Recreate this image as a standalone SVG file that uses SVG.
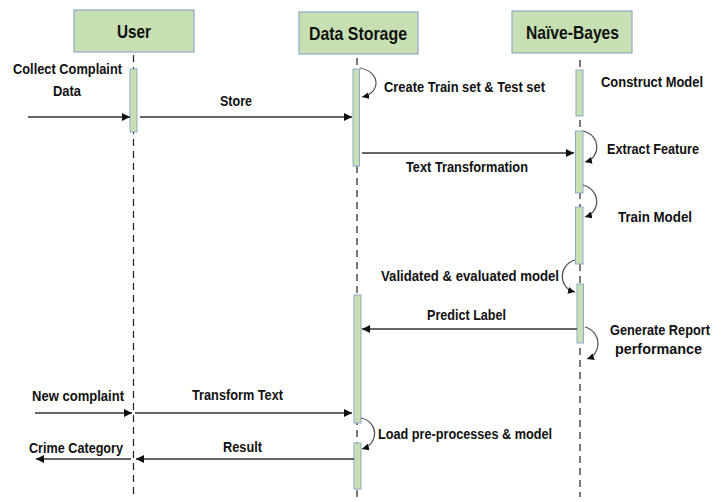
<svg xmlns="http://www.w3.org/2000/svg" width="726" height="502" viewBox="0 0 726 502">
<defs>
<marker id="ah" viewBox="0 0 10 10" refX="10" refY="5" markerWidth="9" markerHeight="8" markerUnits="userSpaceOnUse" orient="auto"><path d="M0,0 L10,5 L0,10 z" fill="#111"/></marker>
<marker id="ahs" viewBox="0 0 10 10" refX="10" refY="5" markerWidth="7" markerHeight="7" markerUnits="userSpaceOnUse" orient="auto"><path d="M0,0 L10,5 L0,10 z" fill="#111"/></marker>
</defs>
<style>
.box{fill:#c6e0b4;stroke:#8fa9c9;stroke-width:1.2}
.bar{fill:#c6e0b4;stroke:#8fa9c9;stroke-width:1}
.life{stroke:#222;stroke-width:1.2;stroke-dasharray:7,5;fill:none}
.msg{stroke:#333;stroke-width:1.3;fill:none;marker-end:url(#ah)}
.loop{stroke:#555;stroke-width:1.2;fill:none;marker-end:url(#ahs)}
.t{font-family:"Liberation Sans Narrow","Liberation Sans",Arial,sans-serif;font-weight:bold;fill:#111;font-size:15px}
.h{font-family:"Liberation Sans Narrow","Liberation Sans",Arial,sans-serif;font-weight:bold;fill:#111;font-size:19px}
</style>
<rect width="726" height="502" fill="#fff"/>
<g id="lifelines">
<line class="life" x1="133.5" y1="55" x2="133.5" y2="497"/>
<line class="life" x1="357" y1="58" x2="357" y2="500"/>
<line class="life" x1="580" y1="60" x2="580" y2="497"/>
</g>
<g id="user">
<rect class="box" x="74" y="10" width="120" height="42"/>
<text class="h" x="117" y="38" textLength="34" lengthAdjust="spacingAndGlyphs">User</text>
<rect class="bar" x="130" y="69" width="7" height="63"/>
</g>
<g id="datastorage">
<rect class="box" x="299" y="12" width="119" height="42"/>
<text class="h" x="309" y="40" textLength="98" lengthAdjust="spacingAndGlyphs">Data Storage</text>
<rect class="bar" x="353" y="69" width="6.5" height="97"/>
<rect class="bar" x="354" y="295" width="7" height="128"/>
<rect class="bar" x="354" y="443" width="7" height="46"/>
</g>
<g id="naivebayes">
<rect class="box" x="512" y="11" width="120" height="42"/>
<text class="h" x="526" y="39" textLength="93" lengthAdjust="spacingAndGlyphs">Naïve-Bayes</text>
<rect class="bar" x="576" y="70" width="7" height="46"/>
<rect class="bar" x="575.5" y="131" width="7.5" height="62"/>
<rect class="bar" x="575.5" y="207" width="7.5" height="57"/>
<rect class="bar" x="577" y="284" width="6.5" height="59"/>
</g>
<g id="connectors">
<line class="msg" x1="28" y1="117" x2="130" y2="117"/>
<line class="msg" x1="140" y1="117" x2="352" y2="117"/>
<line class="msg" x1="362" y1="153" x2="574" y2="153"/>
<line class="msg" x1="577" y1="329" x2="362" y2="329"/>
<line class="msg" x1="35" y1="413" x2="132" y2="413"/>
<line class="msg" x1="135" y1="413" x2="352" y2="413"/>
<line class="msg" x1="354" y1="459" x2="136" y2="459"/>
<line class="msg" x1="131" y1="459" x2="36" y2="459"/>
<path class="loop" d="M360,68 C381,72 381,93 362,97"/>
<path class="loop" d="M583,131 C601,135 601,158 585,162"/>
<path class="loop" d="M583,185 C601,190 601,212 585,217"/>
<path class="loop" d="M575,260 C558,265 558,288 575,292"/>
<path class="loop" d="M585,327 C602,332 602,354 587,359"/>
<path class="loop" d="M361,418 C379,422 379,444 362,449"/>
</g>
<g id="labels">
<text class="t" x="13" y="74" textLength="109" lengthAdjust="spacingAndGlyphs">Collect Complaint</text>
<text class="t" x="53" y="96" textLength="28" lengthAdjust="spacingAndGlyphs">Data</text>
<text class="t" x="220" y="106" textLength="32" lengthAdjust="spacingAndGlyphs">Store</text>
<text class="t" x="384" y="92" textLength="161" lengthAdjust="spacingAndGlyphs">Create Train set &amp; Test set</text>
<text class="t" x="601" y="87" textLength="102" lengthAdjust="spacingAndGlyphs">Construct Model</text>
<text class="t" x="607" y="154" textLength="92" lengthAdjust="spacingAndGlyphs">Extract Feature</text>
<text class="t" x="406" y="172" textLength="122" lengthAdjust="spacingAndGlyphs">Text Transformation</text>
<text class="t" x="618" y="222" textLength="74" lengthAdjust="spacingAndGlyphs">Train Model</text>
<text class="t" x="381" y="281" textLength="178" lengthAdjust="spacingAndGlyphs">Validated &amp; evaluated model</text>
<text class="t" x="427" y="320" textLength="79" lengthAdjust="spacingAndGlyphs">Predict Label</text>
<text class="t" x="610" y="335" textLength="100" lengthAdjust="spacingAndGlyphs">Generate Report</text>
<text class="t" x="615" y="354" textLength="87" lengthAdjust="spacingAndGlyphs">performance</text>
<text class="t" x="32" y="401" textLength="92" lengthAdjust="spacingAndGlyphs">New complaint</text>
<text class="t" x="192" y="400" textLength="91" lengthAdjust="spacingAndGlyphs">Transform Text</text>
<text class="t" x="29" y="453" textLength="94" lengthAdjust="spacingAndGlyphs">Crime Category</text>
<text class="t" x="223" y="452" textLength="39" lengthAdjust="spacingAndGlyphs">Result</text>
<text class="t" x="378" y="439" textLength="174" lengthAdjust="spacingAndGlyphs">Load pre-processes &amp; model</text>
</g>
</svg>
